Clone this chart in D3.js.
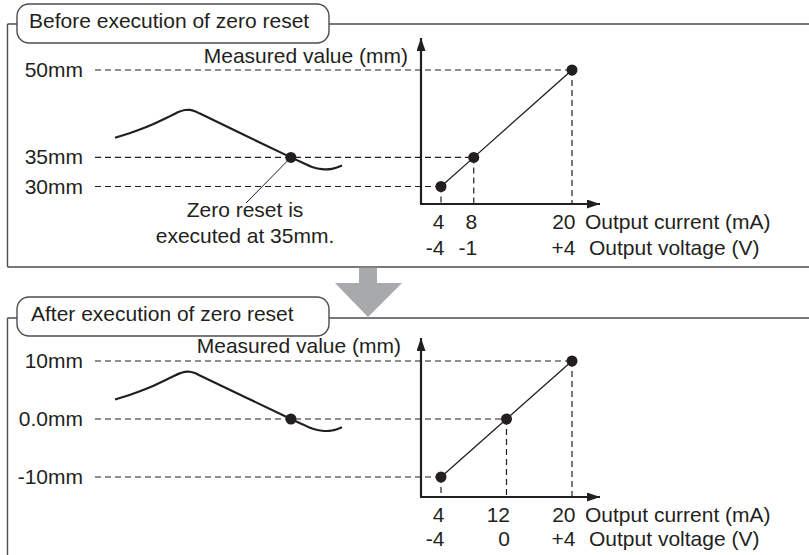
<!DOCTYPE html>
<html>
<head>
<meta charset="utf-8">
<script src="https://cdn.jsdelivr.net/npm/d3@7"></script>
<style>
  body { margin: 0; background: #fff; }
  text { font-family: "Liberation Sans", Arial, sans-serif; fill: #231f20; }
</style>
</head>
<body>
<div id="chart"></div>
<script>
// values
var panelTitles = ["Before execution of zero reset", "After execution of zero reset"];

var currentBefore = [4, 8, 20];
var voltageBefore = ["-4", "-1", "+4"];
var measuredBefore = [30, 35, 50];
var measuredLabelsBefore = ["30mm", "35mm", "50mm"];

var currentAfter = [4, 12, 20];
var voltageAfter = ["-4", "0", "+4"];
var measuredAfter = [-10, 0, 10];
var measuredLabelsAfter = ["-10mm", "0.0mm", "10mm"];

var resetValue = 35;
var resetTime = 77.5;
// measured value over time (mm), before the zero reset
var waveTime = [0, 7.9, 15.4, 25.1, 28.2, 30.8, 33.0, 35.2, 37.4, 77.5, 82.8, 86.8, 91.2, 95.6, 100];
var waveBefore = [38.36, 39.36, 40.47, 42.24, 42.82, 43.13, 43.15, 42.93, 42.52, 35, 34.05, 33.36, 32.97, 33.02, 33.59];
var waveAfter = waveBefore.map(function(v){ return v - resetValue });

var width = 809,
    height = 555

var svg = d3.select("#chart")
  .append("svg")
    .attr("width", width)
    .attr("height", height)

var ink = "#231f20",
    frameColor = "#4d4d4f",
    fontSize = "21px"

// arrow markers for the axes
var defs = svg.append("defs")
defs.append("marker")
    .attr("id", "arrow")
    .attr("viewBox", "0 0 13 9")
    .attr("refX", 13).attr("refY", 4.5)
    .attr("markerWidth", 13).attr("markerHeight", 9)
    .attr("markerUnits", "userSpaceOnUse")
    .attr("orient", "auto")
  .append("path")
    .attr("d", "M0,0 L13,4.5 L0,9 Z")
    .attr("fill", ink)

var x = d3.scaleLinear().domain([4, 20]).range([441, 572])
var t = d3.scaleLinear().domain([0, 100]).range([115, 342])

var panels = [
  {title: panelTitles[0], current: currentBefore, voltage: voltageBefore,
   measured: measuredBefore, labels: measuredLabelsBefore, wave: waveBefore, dotValue: resetValue,
   frameTop: 24, frameBottom: 267, boxY: 4, titleY: 28, titleX: 29,
   axisY: 204, axisTop: 38, yRange: [186.5, 70], measY: 63, measX: 408, row1: 229, row2: 255},
  {title: panelTitles[1], current: currentAfter, voltage: voltageAfter,
   measured: measuredAfter, labels: measuredLabelsAfter, wave: waveAfter, dotValue: 0,
   frameTop: 318, frameBottom: null, boxY: 297, titleY: 321, titleX: 31,
   axisY: 497, axisTop: 338, yRange: [477, 361], measY: 353, measX: 401, row1: 522, row2: 546}
]

panels.forEach(function(p) {
  var g = svg.append("g")
  var y = d3.scaleLinear().domain(d3.extent(p.measured)).range(p.yRange)
  var axisX = x.range()[0] - 20

  // frame
  g.append("line")
      .attr("x1", 7.5).attr("x2", width).attr("y1", p.frameTop).attr("y2", p.frameTop)
      .attr("stroke", frameColor).attr("stroke-width", 1.4)
  g.append("line")
      .attr("x1", 7.5).attr("x2", 7.5).attr("y1", p.frameTop)
      .attr("y2", p.frameBottom == null ? height : p.frameBottom)
      .attr("stroke", frameColor).attr("stroke-width", 1.4)
  if (p.frameBottom != null) {
    g.append("line")
        .attr("x1", 7.5).attr("x2", width).attr("y1", p.frameBottom).attr("y2", p.frameBottom)
        .attr("stroke", frameColor).attr("stroke-width", 1.4)
  }
  g.append("rect")
      .attr("x", 17).attr("y", p.boxY)
      .attr("width", 312).attr("height", 39)
      .attr("rx", 12).attr("ry", 12)
      .attr("fill", "#fff")
      .attr("stroke", frameColor).attr("stroke-width", 1.4)
  g.append("text")
      .attr("x", p.titleX).attr("y", p.titleY)
      .style("font-size", fontSize)
      .text(p.title)

  // the measured-value levels
  var levels = p.measured.map(function(v, i) {
    return {value: v, label: p.labels[i], current: p.current[i]}
  })

  g.selectAll(".hdash")
    .data(levels)
    .enter()
    .append("line")
      .attr("x1", 95)
      .attr("x2", function(d){ return x(d.current) })
      .attr("y1", function(d){ return y(d.value) })
      .attr("y2", function(d){ return y(d.value) })
      .attr("stroke", ink).attr("stroke-width", 1.2)
      .attr("stroke-dasharray", "6,4")

  g.selectAll(".vdash")
    .data(levels)
    .enter()
    .append("line")
      .attr("x1", function(d){ return x(d.current) })
      .attr("x2", function(d){ return x(d.current) })
      .attr("y1", function(d){ return y(d.value) })
      .attr("y2", p.axisY)
      .attr("stroke", ink).attr("stroke-width", 1.2)
      .attr("stroke-dasharray", "6,4")

  g.selectAll(".mlabel")
    .data(levels)
    .enter()
    .append("text")
      .attr("x", 83)
      .attr("y", function(d){ return y(d.value) + 7 })
      .attr("text-anchor", "end")
      .style("font-size", fontSize)
      .text(function(d){ return d.label })

  // axes
  g.append("line")
      .attr("x1", axisX - 1).attr("x2", 600)
      .attr("y1", p.axisY).attr("y2", p.axisY)
      .attr("stroke", ink).attr("stroke-width", 2.2)
      .attr("marker-end", "url(#arrow)")
  g.append("line")
      .attr("x1", axisX).attr("x2", axisX)
      .attr("y1", p.axisY).attr("y2", p.axisTop)
      .attr("stroke", ink).attr("stroke-width", 2.2)
      .attr("marker-end", "url(#arrow)")

  g.append("text")
      .attr("x", p.measX).attr("y", p.measY)
      .attr("text-anchor", "end")
      .style("font-size", fontSize)
      .text("Measured value (mm)")

  // tick labels via d3 axes (no tick lines, no domain)
  var rows = [
    {y: p.row1, fmt: function(d){ return d }, title: "Output current (mA)", tx: 585},
    {y: p.row2, fmt: function(d, i){ return p.voltage[i] }, title: "Output voltage (V)", tx: 589}
  ]
  rows.forEach(function(r) {
    var ax = g.append("g")
        .attr("transform", "translate(0," + (r.y - 16) + ")")
        .call(d3.axisBottom(x).tickValues(p.current).tickSize(0).tickPadding(0).tickFormat(r.fmt))
    ax.select(".domain").remove()
    ax.selectAll("text")
        .attr("dy", null)
        .attr("y", 16)
        .attr("x", 3)
        .attr("text-anchor", "end")
        .attr("fill", ink)
        .style("font-size", fontSize)
        .style("font-family", '"Liberation Sans", Arial, sans-serif')
    g.append("text")
        .attr("x", r.tx).attr("y", r.y)
        .style("font-size", fontSize)
        .text(r.title)
  })

  // conversion line and points
  g.append("path")
      .datum(levels)
      .attr("d", d3.line().x(function(d){ return x(d.current) }).y(function(d){ return y(d.value) }))
      .attr("fill", "none")
      .attr("stroke", ink).attr("stroke-width", 1.3)
  g.selectAll(".pt")
    .data(levels)
    .enter()
    .append("circle")
      .attr("cx", function(d){ return x(d.current) })
      .attr("cy", function(d){ return y(d.value) })
      .attr("r", 5.5)
      .attr("fill", ink)

  // measured value waveform
  var wave = waveTime.map(function(tt, i){ return {t: tt, v: p.wave[i]} })
  g.append("path")
      .datum(wave)
      .attr("d", d3.line().curve(d3.curveCatmullRom.alpha(0.5))
        .x(function(d){ return t(d.t) }).y(function(d){ return y(d.v) }))
      .attr("fill", "none")
      .attr("stroke", ink).attr("stroke-width", 2.2)
  g.append("circle")
      .attr("cx", t(resetTime))
      .attr("cy", y(p.dotValue))
      .attr("r", 5.5)
      .attr("fill", ink)

  if (p.dotValue === resetValue) {
    g.append("line")
        .attr("x1", t(resetTime)).attr("y1", y(p.dotValue))
        .attr("x2", 246).attr("y2", 203)
        .attr("stroke", ink).attr("stroke-width", 1)
    g.append("text")
        .attr("x", 245).attr("y", 217)
        .attr("text-anchor", "middle")
        .style("font-size", fontSize)
        .text("Zero reset is")
    g.append("text")
        .attr("x", 245).attr("y", 243)
        .attr("text-anchor", "middle")
        .style("font-size", fontSize)
        .text("executed at 35mm.")
  }
})

// gray arrow between the two panels
svg.append("path")
    .attr("d", "M359,267.7 L377,267.7 L377,283 L402,283 L368,317 L335,283 L359,283 Z")
    .attr("fill", "#a7a9ac")
</script>
</body>
</html>
